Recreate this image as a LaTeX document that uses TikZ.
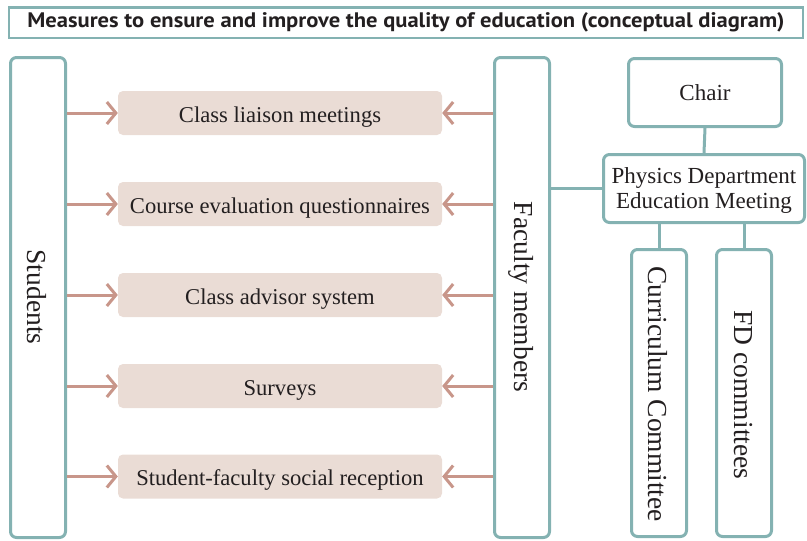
\documentclass[tikz,border=0pt]{standalone}
\usepackage{fontspec}
\setmainfont{Liberation Serif}
\newfontfamily\titlefont[FakeStretch=1.075]{PT Sans Bold}
\usetikzlibrary{arrows.meta}
\definecolor{teal}{RGB}{132,178,178}
\definecolor{pinkfill}{RGB}{234,220,213}
\definecolor{arrowpink}{RGB}{200,150,138}
\definecolor{ink}{RGB}{35,31,32}
\tikzset{
  frame/.style={draw=teal, line width=3pt, rounded corners=6pt, fill=white, inner sep=0pt},
  vbox/.style={frame, minimum width=55pt, minimum height=480pt},
  cbox/.style={frame, minimum width=55pt, minimum height=287pt},
  measure/.style={fill=pinkfill, rounded corners=5pt, minimum width=324pt, minimum height=44pt,
    inner sep=0pt, text=ink, font=\fontsize{22.6}{25}\selectfont,
    text height=18.5pt, text depth=0pt},
  label/.style={text=ink, font=\fontsize{23}{25}\selectfont, inner sep=0pt, align=center,
    text depth=0pt},
  vlabel/.style={text=ink, font=\fontsize{27.5}{30}\selectfont, inner sep=0pt, rotate=-90},
  link/.style={draw=teal, line width=3pt},
  flow/.style={draw=arrowpink, line width=3pt, -{Straight Barb[length=9pt, width=22pt, line width=3pt]}},
}
\begin{document}
\begin{tikzpicture}[x=1pt, y=-1pt]
\useasboundingbox (0,0) rectangle (807,541);

% heading
\node[draw=teal, line width=2.5pt, minimum width=794pt, minimum height=30.5pt, inner sep=0pt,
  text=ink, font=\titlefont\fontsize{21}{24}\selectfont] (title) at (406,22.5)
  {Measures to ensure and improve the quality of education (conceptual diagram)};

% students and faculty columns
\node[vbox] (students) at (38,297.5) {};
\node[vlabel] (studentstext) at (37,297) {Students};
\node[vbox] (faculty) at (522,297.5) {};
\node[vlabel] (facultytext) at (521,297) {Faculty members};

% measures
\node[measure] (m1) at (280,113) {Class liaison meetings};
\node[measure] (m2) at (280,204) {Course evaluation questionnaires};
\node[measure] (m3) at (280,295) {Class advisor system};
\node[measure] (m4) at (280,386) {Surveys};
\node[measure] (m5) at (280,476.5) {Student-faculty social reception};

\foreach \m in {m1,m2,m3,m4,m5} {
  \draw[flow] (students.east |- \m.west) -- (\m.west);
  \draw[flow] (faculty.west |- \m.east) -- (\m.east);
}

% department organisation
\node[frame, minimum width=153pt, minimum height=68pt, label] (chair) at (705,92.5) {Chair};
\node[frame, minimum width=201pt, minimum height=68pt, label] (meeting) at (704,188.5)
  {Physics Department\\Education Meeting};
\node[cbox] (curriculum) at (659,393) {};
\node[vlabel] (curriculumtext) at (658,394) {Curriculum Committee};
\node[cbox] (fd) at (744,393) {};
\node[vlabel] (fdtext) at (743,395) {FD committees};

\draw[link] (chair.south) -- (meeting.north);
\draw[link] (faculty.east |- meeting.west) -- (meeting.west);
\draw[link] (curriculum.north) -- (curriculum.north |- meeting.south);
\draw[link] (fd.north) -- (fd.north |- meeting.south);
\end{tikzpicture}
\end{document}
